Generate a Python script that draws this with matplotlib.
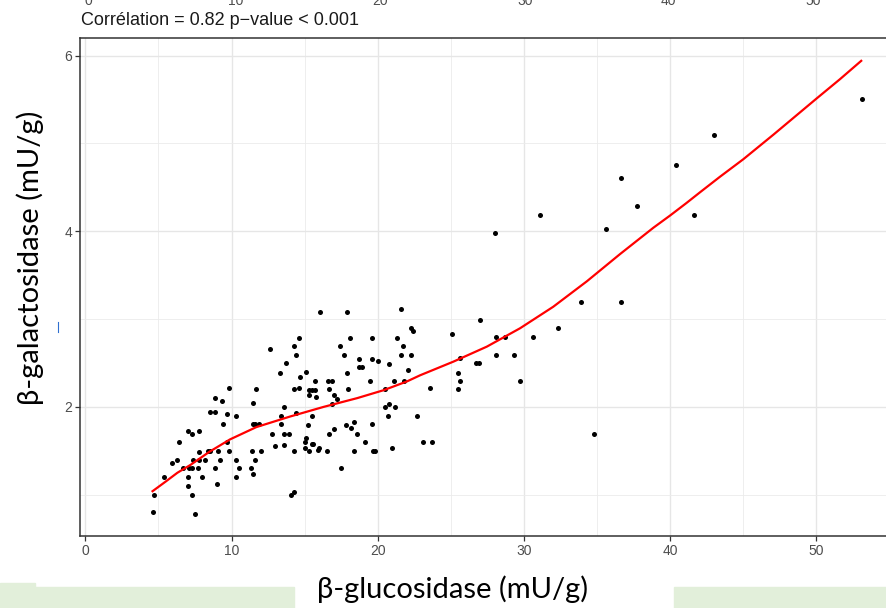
import matplotlib
matplotlib.use("Agg")
import matplotlib.pyplot as plt
from matplotlib.patches import Rectangle
from matplotlib.lines import Line2D

# beta-glucosidase (x) vs beta-galactosidase (y)
gluco = [53.1, 43.0, 40.4, 36.6, 28.0, 31.1, 35.6, 37.7, 41.6,
         33.9, 36.6, 27.0, 25.1, 28.1, 28.7, 30.6, 32.3,
         25.6, 28.1, 29.3, 26.7, 26.95, 25.5, 25.6, 25.5, 29.7, 23.6, 23.1, 23.7, 34.8,
         21.6, 16.05, 17.9, 22.3, 22.4, 14.6, 14.3, 18.1, 19.6, 21.3, 12.6, 17.4, 21.7,
         14.4, 17.7, 21.6, 22.3, 18.7, 19.6, 20.0, 13.7, 20.8, 18.7, 18.9, 13.3, 15.1,
         22.05, 17.9, 14.7, 15.7, 16.6, 16.9, 19.5, 21.1, 21.8,
         9.85, 11.7, 14.3, 14.6, 15.3, 15.5, 15.7, 16.7, 18.0, 20.5,
         15.3, 15.8, 17.0, 17.2, 8.9, 9.35, 16.85, 13.6, 20.5, 20.8, 21.2,
         8.5, 8.9, 9.7, 10.3, 11.5, 13.4, 14.4, 15.5, 20.7, 22.7,
         9.4, 7.8, 7.05, 7.3, 11.5, 11.6, 11.9, 13.4, 15.25, 17.0, 16.7, 17.85, 18.15,
         18.4, 18.6, 19.6, 12.8, 13.6, 13.95,
         6.4, 9.7, 15.1, 15.0, 15.5, 15.6, 19.1, 13.0, 13.6, 15.0, 15.95, 15.9, 21.0,
         5.9, 6.3, 6.7, 7.1, 7.3, 7.4, 7.7, 7.8, 7.8, 8.2, 8.4, 8.5, 9.1, 9.2, 9.8,
         8.9, 10.3, 10.5, 11.4, 12.0, 11.6, 11.3, 11.5,
         5.4, 7.0, 8.0, 10.3, 7.0, 9.0, 7.3, 14.1, 14.3, 4.7, 4.6, 7.5,
         17.5, 19.65, 19.8, 18.4, 16.5, 15.3, 14.3]
galacto = [5.51, 5.09, 4.75, 4.61, 3.98, 4.19, 4.03, 4.29, 4.19,
           3.19, 3.19, 2.99, 2.83, 2.80, 2.80, 2.80, 2.90,
           2.56, 2.59, 2.59, 2.50, 2.50, 2.39, 2.30, 2.20, 2.30, 2.21, 1.60, 1.60, 1.69,
           3.12, 3.08, 3.08, 2.90, 2.86, 2.79, 2.69, 2.79, 2.79, 2.79, 2.66, 2.69, 2.69,
           2.59, 2.59, 2.59, 2.59, 2.55, 2.55, 2.52, 2.50, 2.49, 2.45, 2.45, 2.39, 2.40,
           2.42, 2.39, 2.34, 2.30, 2.30, 2.30, 2.29, 2.30, 2.29,
           2.22, 2.20, 2.20, 2.22, 2.19, 2.19, 2.19, 2.20, 2.20, 2.20,
           2.13, 2.11, 2.14, 2.09, 2.10, 2.07, 2.03, 2.00, 2.00, 2.03, 2.00,
           1.94, 1.94, 1.92, 1.90, 2.04, 1.90, 1.93, 1.90, 1.90, 1.90,
           1.80, 1.73, 1.72, 1.69, 1.81, 1.80, 1.80, 1.81, 1.79, 1.75, 1.69, 1.79, 1.76,
           1.83, 1.69, 1.80, 1.69, 1.69, 1.69,
           1.60, 1.60, 1.65, 1.60, 1.58, 1.58, 1.60, 1.55, 1.57, 1.53, 1.53, 1.51, 1.53,
           1.36, 1.40, 1.30, 1.30, 1.30, 1.40, 1.30, 1.49, 1.40, 1.40, 1.50, 1.50, 1.50, 1.40, 1.50,
           1.30, 1.40, 1.30, 1.50, 1.50, 1.40, 1.30, 1.24,
           1.20, 1.20, 1.20, 1.20, 1.10, 1.12, 1.00, 1.00, 1.03, 1.00, 0.80, 0.78,
           1.30, 1.50, 1.50, 1.50, 1.50, 1.50, 1.50]

# smoothing curve (loess)
fit_x = [4.6, 5.5, 6.3, 7.2, 8.5, 9.9, 11.7, 14.0, 16.3, 18.6, 20.4, 22.0, 22.9,
         25.17, 27.46, 29.73, 32.0, 34.3, 36.57, 38.85, 40.0, 41.1, 42.05, 43.4,
         45.0, 47.06, 50.0, 51.6, 53.06]
fit_y = [1.04, 1.15, 1.25, 1.34, 1.49, 1.63, 1.77, 1.89, 2.00, 2.10, 2.19, 2.29, 2.36,
         2.515, 2.686, 2.895, 3.14, 3.43, 3.74, 4.04, 4.18, 4.32, 4.445, 4.62,
         4.82, 5.10, 5.51, 5.73, 5.94]

x_ticks = [0, 10, 20, 30, 40, 50]
y_ticks = [2, 4, 6]
title_txt = "Corrélation = 0.82 p\u2212value < 0.001"
xlab = "β-glucosidase (mU/g)"
ylab = "β-galactosidase (mU/g)"

W, H = 887, 608
fig = plt.figure(figsize=(W / 100, H / 100), dpi=100)
ax = fig.add_axes([80 / W, (H - 536) / H, (W - 80) / W + 0.01, (536 - 38) / H])

# gridlines
ax.set_xticks(x_ticks)
ax.set_xticks([5, 15, 25, 35, 45, 55], minor=True)
ax.set_yticks(y_ticks)
ax.set_yticks([1, 3, 5], minor=True)
ax.grid(True, which="major", color="#e6e6e6", lw=1.0)
ax.grid(True, which="minor", color="#ebebeb", lw=0.6)
ax.set_axisbelow(True)

ax.scatter(gluco, galacto, s=13, color="black", linewidths=0, zorder=3)
ax.plot(fit_x, fit_y, color="red", lw=1.6, zorder=4)

ax.set_xlim(-0.36, 54.83 + 0.6)
ax.set_ylim(0.53, 6.20)

for side in ["left", "bottom", "top"]:
    ax.spines[side].set_color("#333333")
    ax.spines[side].set_linewidth(1.1)
ax.spines["right"].set_visible(False)
ax.tick_params(which="major", length=3.5, width=0.9, color="#333333",
               labelcolor="#4d4d4d", labelsize=10)
ax.tick_params(which="minor", length=0)
ax.tick_params(axis="x", pad=2)
ax.tick_params(axis="y", pad=2)
for lab in ax.get_xticklabels() + ax.get_yticklabels():
    lab.set_family(["Liberation Sans Narrow", "Liberation Sans"])

# green boxes from the slide below
green = "#e2efda"
fig.patches.append(Rectangle((0, 0), 294 / W, (H - 587) / H, transform=fig.transFigure,
                             color=green, zorder=0))
fig.patches.append(Rectangle((0, 0), 35 / W, (H - 583) / H, transform=fig.transFigure,
                             color=green, zorder=0))
fig.patches.append(Rectangle((674 / W, 0), (W - 674) / W, (H - 587) / H,
                             transform=fig.transFigure, color=green, zorder=0))

# cut-off tick labels of the chart above
for v, px in zip(x_ticks, [88, 236, 380, 525, 668, 813]):
    fig.text(px / W, 1 - 5 / H, str(v), ha="center", va="baseline", fontsize=10,
             color="#4d4d4d", family="Liberation Sans")

fig.text(81 / W, 1 - 25 / H, title_txt, ha="left", va="baseline", fontsize=13,
         color="#1a1a1a", family="Liberation Sans")

fig.text(453 / W, 1 - 589 / H, xlab, ha="center", va="center", fontsize=21,
         family="Lato", color="black")
fig.text(30 / W, 1 - 258 / H, ylab, ha="center", va="center", fontsize=21,
         family="Lato", color="black", rotation=90)

fig.lines.append(Line2D([58 / W, 58 / W], [1 - 322 / H, 1 - 332 / H],
                        transform=fig.transFigure, color="#2f6fd0", lw=0.8))

fig.savefig("out.png", dpi=100)
